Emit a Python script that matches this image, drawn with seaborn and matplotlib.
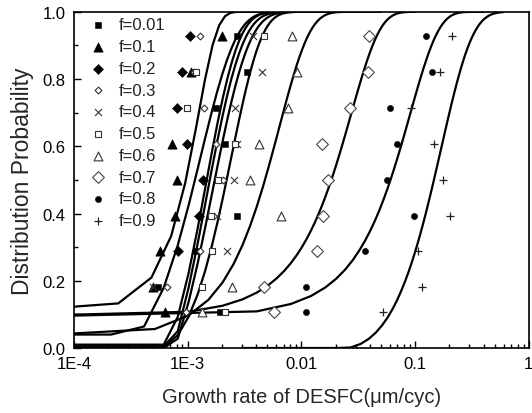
import numpy as np
import pandas as pd
import matplotlib
matplotlib.use("Agg")
import matplotlib.pyplot as plt
import seaborn as sns
from matplotlib.ticker import FixedLocator, FixedFormatter, LogLocator, NullFormatter, MultipleLocator, FormatStrFormatter

sns.set_style("ticks")
plt.rcParams["font.family"] = ["Liberation Sans", "DejaVu Sans"]

# ---- measured data: growth rate (um/cyc) at each distribution-probability rank ----
series = ["f=0.01", "f=0.1", "f=0.2", "f=0.3", "f=0.4",
          "f=0.5", "f=0.6", "f=0.7", "f=0.8", "f=0.9"]
levels = [0.927, 0.820, 0.714, 0.607, 0.500, 0.394, 0.288, 0.180, 0.108]
nan = np.nan
rate_f001 = [2.69e-3, 3.30e-3, 1.77e-3, 2.13e-3, nan, 2.69e-3, 1.18e-3, 5.44e-4, 1.92e-3]
rate_f01 = [1.99e-3, 1.08e-3, nan, 7.22e-4, 7.99e-4, 7.72e-4, 5.70e-4, 4.95e-4, 6.31e-4]
rate_f02 = [1.05e-3, 8.85e-4, 7.99e-4, 9.79e-4, 1.37e-3, 1.26e-3, 8.26e-4, nan, nan]
rate_f03 = [1.28e-3, 1.135e-3, 1.40e-3, 1.77e-3, 2.04e-3, nan, 1.28e-3, 6.57e-4, 9.65e-4]
rate_f04 = [3.75e-3, 4.52e-3, 2.60e-3, 2.69e-3, 2.55e-3, 1.80e-3, 2.20e-3, 4.95e-4, nan]
rate_f05 = [4.68e-3, 1.18e-3, 9.79e-4, 2.60e-3, 1.85e-3, 1.59e-3, 1.63e-3, 1.33e-3, 2.13e-3]
rate_f06 = [8.25e-3, 9.13e-3, 7.66e-3, 4.23e-3, 3.53e-3, 6.67e-3, nan, 2.46e-3, 1.33e-3]
rate_f07 = [0.0394, 0.0386, 0.0267, 0.0152, 0.0172, 0.0156, 0.0138, 4.68e-3, 5.77e-3]
rate_f08 = [0.124, 0.140, 0.060, 0.0695, 0.0561, 0.0982, 0.0361, 0.0109, 0.0109]
rate_f09 = [0.212, 0.165, 0.0912, 0.147, 0.177, 0.202, 0.105, 0.114, 0.0524]
rates = [rate_f001, rate_f01, rate_f02, rate_f03, rate_f04,
         rate_f05, rate_f06, rate_f07, rate_f08, rate_f09]

# ---- fitted Weibull-type distribution for each series ----
floor_p = [0.005, 0.09, 0.04, 0.01, 0.0, 0.0, 0.0, 0.0, 0.0, 0.0]
loc_x0 = [7.3e-4, -3.0e-4, 3.5e-4, 6.5e-4, 5.8e-4, 7.5e-4, -7.8e-4, -0.0108, -0.035, 0.025]
scale_eta = [1.14e-3, 1.5e-3, 1.13e-3, 1.10e-3, 2.07e-3, 1.33e-3, 6.9e-3, 0.035, 0.115, 0.155]
shape_beta = [1.2, 3.0, 1.28, 1.3, 1.5, 1.2, 1.7, 2.0, 2.0, 1.5]
grid_lo = [1e-5, 1e-5, 1e-5, 1e-5, 1e-5, 1e-5, 1e-5, 1e-5, 1e-5, 0.003]
grid_hi = [0.02, 0.0233, 0.02, 0.02, 0.02, 0.02, 0.05, 0.1, 0.4, 0.6]

x_ticks = [1e-4, 1e-3, 1e-2, 1e-1, 1.0]
x_tick_labels = ["1E-4", "1E-3", "0.01", "0.1", "1"]


def fitted_cdf(x, p0, x0, eta, beta):
    z = np.clip(x - x0, 0.0, None) / eta
    return p0 + (1.0 - p0) * (1.0 - np.exp(-z ** beta))


marker_styles = [
    dict(marker="s", s=22, color="black", edgecolor="black"),
    dict(marker="^", s=44, color="black", edgecolor="black"),
    dict(marker="D", s=26, color="black", edgecolor="black"),
    dict(marker="D", s=12, facecolor="white", edgecolor="#333333", linewidth=0.8),
    dict(marker="x", s=26, color="#333333", linewidth=0.8),
    dict(marker="s", s=16, facecolor="white", edgecolor="#333333", linewidth=0.8),
    dict(marker="^", s=40, facecolor="white", edgecolor="#333333", linewidth=0.8),
    dict(marker="D", s=36, facecolor="white", edgecolor="#444444", linewidth=0.8),
    dict(marker="o", s=20, color="black", edgecolor="black"),
    dict(marker="+", s=34, color="#222222", linewidth=0.9),
]

fig = plt.figure(figsize=(5.32, 4.14), dpi=100)
ax = fig.add_axes([0.139, 0.157, 0.855, 0.812])

# fitted curves
for i, name in enumerate(series):
    xg = np.linspace(grid_lo[i], grid_hi[i], 100)
    curve = pd.DataFrame({"rate": xg,
                          "prob": fitted_cdf(xg, floor_p[i], loc_x0[i], scale_eta[i], shape_beta[i])})
    sns.lineplot(data=curve, x="rate", y="prob", ax=ax, color="black",
                 linewidth=1.6, estimator=None, sort=False, legend=False, zorder=2)

# measured points
for i, name in enumerate(series):
    pts = pd.DataFrame({"rate": rates[i], "prob": levels}).dropna()
    sns.scatterplot(data=pts, x="rate", y="prob", ax=ax, label=name,
                    zorder=3, **marker_styles[i])

ax.set_xscale("log")
ax.set_xlim(1e-4, 1.0)
ax.set_ylim(0.0, 1.0)
ax.xaxis.set_major_locator(FixedLocator(x_ticks))
ax.xaxis.set_major_formatter(FixedFormatter(x_tick_labels))
ax.xaxis.set_minor_locator(LogLocator(base=10, subs=np.arange(2, 10)))
ax.xaxis.set_minor_formatter(NullFormatter())
ax.yaxis.set_major_locator(MultipleLocator(0.2))
ax.yaxis.set_minor_locator(MultipleLocator(0.1))
ax.yaxis.set_major_formatter(FormatStrFormatter("%.1f"))
ax.tick_params(which="both", direction="in", labelsize=12, colors="black",
               top=False, right=False, width=1.0, pad=6)
ax.tick_params(which="major", length=5)
ax.tick_params(which="minor", length=3)
for sp in ax.spines.values():
    sp.set_linewidth(1.2)
    sp.set_color("black")

ax.set_xlabel("Growth rate of DESFC(\u03bcm/cyc)", fontsize=14.5, labelpad=11)
ax.set_ylabel("Distribution Probability", fontsize=16.5, labelpad=6)

leg = ax.legend(loc="upper left", bbox_to_anchor=(0.01, 1.013), frameon=False,
                fontsize=12, handletextpad=0.6, labelspacing=0.405,
                borderaxespad=0.2, handlelength=1.2)
for t in leg.get_texts():
    t.set_color("#222222")

fig.savefig("out.png", dpi=100)
